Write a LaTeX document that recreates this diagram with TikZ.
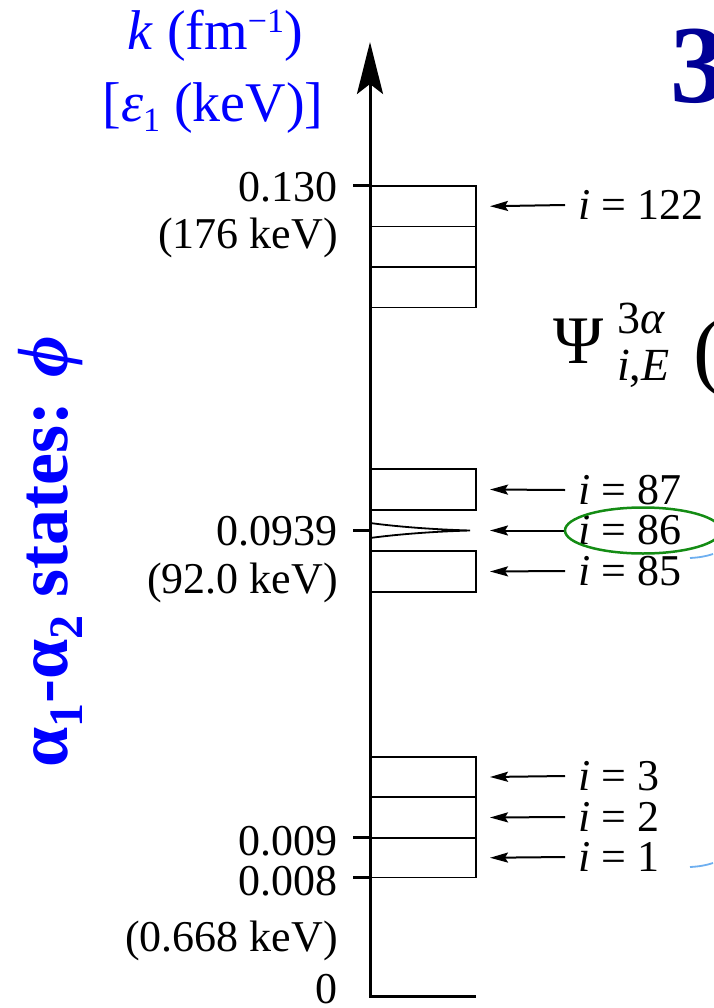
\documentclass[tikz,border=0pt]{standalone}
\usepackage{fontspec}
\setmainfont{Liberation Serif}
\usetikzlibrary{arrows.meta}
\newcommand\myfs[1]{\fontsize{#1}{#1}\selectfont}
\definecolor{labblue}{RGB}{0,0,255}
\definecolor{navythree}{RGB}{0,0,150}
\definecolor{ellgreen}{RGB}{20,140,20}
\definecolor{arcblue}{RGB}{110,175,240}
\begin{document}
\begin{tikzpicture}[x=1pt,y=-1pt,
  box/.style={draw, line width=1.8pt, minimum width=106pt, minimum height=#1, anchor=north west, inner sep=0pt, outer sep=0pt},
  ilab/.style={anchor=west, inner sep=0pt, font=\myfs{44}},
  klab/.style={anchor=base east, inner sep=0pt, font=\myfs{44}},
  arr/.style={line width=2pt, -{Stealth[length=18pt,width=10pt,inset=3pt]}},
  tickline/.style={line width=3pt},
  axisline/.style={line width=3pt, -{Stealth[length=52pt,width=26pt,inset=10pt]}}]
\useasboundingbox (0,0) rectangle (713,1008);

% axis
\coordinate (origin) at (370,996);
\coordinate (bottomend) at (476,996);
\coordinate (axistop) at (370,42);
\draw[axisline] (bottomend) -- (origin) -- (axistop);

% ticks
\draw[tickline] (353,186) -- (370,186);
\draw[tickline] (353,530.5) -- (370,530.5);
\draw[tickline] (353,837.5) -- (370,837.5);
\draw[tickline] (353,877.5) -- (370,877.5);

% boxes
\node[box=40.5pt] (b122) at (370,186) {};
\node[box=40.5pt] (b121) at (370,226.5) {};
\node[box=40.5pt] (b120) at (370,267) {};
\node[box=41pt] (b87) at (370,469) {};
\node[box=41pt] (b85) at (370,551) {};
\node[box=40pt] (b3) at (370,757) {};
\node[box=41pt] (b2) at (370,797) {};
\node[box=39.5pt] (b1) at (370,838) {};

% resonance spike
\coordinate (sp) at (470,530.5);
\draw[line width=1.8pt] (370,523) .. controls (400,527) and (435,529.5) .. (sp)
  .. controls (435,531.5) and (400,534) .. (370,538);

% axis value labels
\node[klab] (v130) at (338,202) {0.130};
\node[klab] (e130) at (338,248) {(176 keV)};
\node[klab] (v0939) at (338,545) {0.0939};
\node[klab] (e0939) at (338,593) {(92.0 keV)};
\node[klab] (v009) at (338,855) {0.009};
\node[klab] (v008) at (338,895) {0.008};
\node[klab] (e008) at (338,951) {(0.668 keV)};
\node[klab] (v0) at (338,1003) {0};

% state labels and arrows
\node[ilab] (l122) at (578,205) {\textit{i} = 122};
\node[ilab] (l87) at (578,490) {\textit{i} = 87};
\node[ilab] (l86) at (578,530.5) {\textit{i} = 86};
\node[ilab] (l85) at (578,571) {\textit{i} = 85};
\node[ilab] (l3) at (578,776) {\textit{i} = 3};
\node[ilab] (l2) at (578,817) {\textit{i} = 2};
\node[ilab] (l1) at (578,857) {\textit{i} = 1};
\draw[arr] ([xshift=-13pt]l122.west) -- ([xshift=14pt]b122.east);
\draw[arr] ([xshift=-13pt]l87.west) -- ([xshift=14pt]b87.east);
\draw[arr] ([xshift=-13pt]l86.west) -- ([xshift=20pt]sp);
\draw[arr] ([xshift=-13pt]l85.west) -- ([xshift=14pt]b85.east);
\draw[arr] ([xshift=-13pt]l3.west) -- ([xshift=14pt]b3.east);
\draw[arr] ([xshift=-13pt]l2.west) -- ([xshift=14pt]b2.east);
\draw[arr] ([xshift=-13pt]l1.west) -- ([xshift=14pt]b1.east);

% green ellipse
\draw[ellgreen, line width=2.5pt] (643,530.5) ellipse [x radius=78, y radius=23];

% light blue arcs
\draw[arcblue, line width=1.8pt] (690,558) .. controls (700,557.5) and (707,556) .. (713,554);
\draw[arcblue, line width=1.8pt] (690,867) .. controls (700,866.5) and (707,865) .. (713,863);

% axis title
\node[anchor=base, inner sep=0pt, text=labblue] (ktitle) at (215,50) {\myfs{56}\textit{k} (fm\raisebox{17pt}{\myfs{34}−1})};
\node[anchor=base, inner sep=0pt, text=labblue] (etitle) at (213,122) {\myfs{56}[\textit{ε}\raisebox{-10pt}{\myfs{34}1} (keV)]};

% rotated label
\node[rotate=90, anchor=base, inner sep=0pt, text=labblue, font=\bfseries] (phlab) at (67,552)
  {\myfs{72}α\raisebox{-15pt}{\myfs{48}1}-α\raisebox{-15pt}{\myfs{48}2} states: \textit{ϕ}};

% big 3
\node[anchor=base west, inner sep=0pt, text=navythree, font=\bfseries] (three) at (670,103) {\myfs{111}3};

% Psi
\node[anchor=base west, inner sep=0pt] (psi) at (553,363) {\myfs{68}Ψ};
\node[anchor=base west, inner sep=0pt] (psisup) at (617,333) {\myfs{46}3\textit{α}};
\node[anchor=base west, inner sep=0pt] (psisub) at (617,380) {\myfs{46}\textit{i},\textit{E}};
\node[anchor=base west, inner sep=0pt] (paren) at (693,378) {\myfs{86}(};
\end{tikzpicture}
\end{document}
